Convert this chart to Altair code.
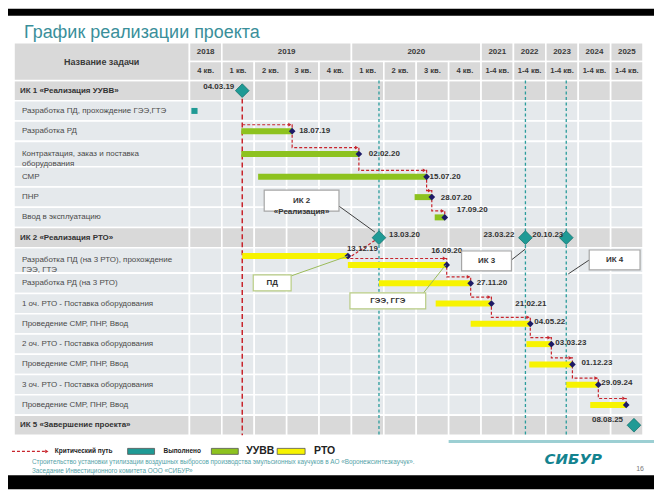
import altair as alt
import pandas as pd

# ------------------------------------------------------------------ data
years = ["2018", "2019", "2020", "2021", "2022", "2023", "2024", "2025"]
year_span = [1, 4, 4, 1, 1, 1, 1, 1]
quarters = ["4 кв.", "1 кв.", "2 кв.", "3 кв.", "4 кв.", "1 кв.", "2 кв.", "3 кв.", "4 кв.",
            "1-4 кв.", "1-4 кв.", "1-4 кв.", "1-4 кв.", "1-4 кв."]
tasks = [
    "ИК 1 «Реализация УУВВ»",
    "Разработка ПД, прохождение ГЭЭ,ГТЭ",
    "Разработка РД",
    "Контрактация, заказ и поставка\nоборудования",
    "СМР",
    "ПНР",
    "Ввод в эксплуатацию",
    "ИК 2 «Реализация РТО»",
    "Разработка ПД (на 3 РТО), прохождение\nГЭЭ, ГТЭ",
    "Разработка РД (на 3 РТО)",
    "1 оч. РТО - Поставка оборудования",
    "Проведение СМР, ПНР, Ввод",
    "2 оч. РТО - Поставка оборудования",
    "Проведение СМР, ПНР, Ввод",
    "3 оч. РТО - Поставка оборудования",
    "Проведение СМР, ПНР, Ввод",
    "ИК 5 «Завершение проекта»",
]

# timeline position = columns from the start of 2018 Q4 (one column per quarter to 2020, then per year)
done_rows = [1]
done_start = [0.06]
done_end = [0.25]

uuvv_rows = [2, 3, 4, 5, 6]
uuvv_start = [1.60, 1.60, 2.12, 6.95, 7.57]
uuvv_end = [3.17, 5.23, 7.32, 7.48, 7.88]
uuvv_dates = ["18.07.19", "02.02.20", "15.07.20", "28.07.20", "17.09.20"]

rto_rows = [8, 8, 9, 10, 11, 12, 13, 14, 15]
rto_start = [1.63, 4.89, 5.85, 7.60, 8.68, 10.40, 10.49, 11.63, 12.37]
rto_end = [4.89, 7.94, 8.68, 9.32, 10.52, 11.17, 11.82, 12.62, 13.48]
rto_dates = ["13.12.19", "16.09.20", "27.11.20", "21.02.21", "04.05.22", "03.03.23", "01.12.23", "29.09.24", ""]

ms_dates = ["04.03.19", "13.03.20", "23.03.22", "20.10.23", "08.08.25"]
ms_pos = [1.63, 5.85, 10.37, 11.63, 13.72]
ms_rows = [0, 7, 7, 7, 16]

callouts = ["ИК 2\n«Реализация»", "ПД", "ГЭЭ, ГГЭ", "ИК 3", "ИК 4"]
legend_labels = ["Критический путь", "Выполнено", "УУВВ", "РТО"]

# ------------------------------------------------------------------ layout / style
W, H = 648, 482
X0, Y0, PXU, PYU = 190.0, 80.0, 32.5, 20.34


def ux(p):
    return (p - X0) / PXU


def uy(p):
    return (p - Y0) / PYU


FONT = "Liberation Sans"
TXT = "#3a3a3a"
HDR_FILL, IK_FILL, ROW_FILL = "#d9d9d9", "#d9d9d9", "#e5e9ec"
GREEN, YELLOW, TEAL, NAVY, RED = "#8dc21f", "#f7f300", "#1f9a95", "#1c1a66", "#c8242c"
OLIVE = "#9bbb59"

xs = alt.Scale(domain=[ux(8), ux(8 + W)], nice=False, zero=False)
ys = alt.Scale(domain=[uy(8), uy(8 + H)], nice=False, zero=False, reverse=True)


def X(f):
    return alt.X(f, type="quantitative", scale=xs, axis=None)


def Y(f):
    return alt.Y(f, type="quantitative", scale=ys, axis=None)


heights = [1.25 if "\n" in t else 1.0 for t in tasks]
tops = []
acc = 0.0
for h in heights:
    tops.append(acc)
    acc += h
centers = [t + h / 2 for t, h in zip(tops, heights)]
BOTTOM = acc
HDR = [-1.87, -0.935, 0.0]

layers = []
one = pd.DataFrame({"a": [0]})

# black letterbox bands
layers.append(alt.Chart(one).mark_rect(color="black").encode(
    x=alt.value(0), x2=alt.value(W), y=alt.value(0), y2=alt.value(7)))
layers.append(alt.Chart(one).mark_rect(color="black").encode(
    x=alt.value(0), x2=alt.value(W), y=alt.value(468), y2=alt.value(H)))

# table cells
cells = []
for r, t in enumerate(tasks):
    fill = IK_FILL if t.startswith("ИК") else ROW_FILL
    cells.append(dict(x=ux(14), x2=0, y=tops[r], y2=tops[r] + heights[r], fill=fill))
    for c in range(len(quarters)):
        cells.append(dict(x=c, x2=c + 1, y=tops[r], y2=tops[r] + heights[r], fill=fill))
cells.append(dict(x=ux(14), x2=0, y=HDR[0], y2=HDR[2], fill=HDR_FILL))
c0 = 0
year_mid = []
for yr, sp in zip(years, year_span):
    cells.append(dict(x=c0, x2=c0 + sp, y=HDR[0], y2=HDR[1], fill=HDR_FILL))
    year_mid.append(c0 + sp / 2)
    c0 += sp
for c in range(len(quarters)):
    cells.append(dict(x=c, x2=c + 1, y=HDR[1], y2=HDR[2], fill=HDR_FILL))
layers.append(alt.Chart(pd.DataFrame(cells)).mark_rect(stroke="white", strokeWidth=1.6).encode(
    x=X("x"), x2="x2", y=Y("y"), y2="y2", color=alt.Color("fill:N", scale=None)))

# header texts
layers.append(alt.Chart(pd.DataFrame({"x": [ux(102)], "y": [(HDR[0] + HDR[2]) / 2], "t": ["Название задачи"]}))
              .mark_text(font=FONT, fontSize=9, fontWeight="bold", color=TXT).encode(x=X("x"), y=Y("y"), text="t:N"))
layers.append(alt.Chart(pd.DataFrame({"x": year_mid, "y": [(HDR[0] + HDR[1]) / 2] * len(years), "t": years}))
              .mark_text(font=FONT, fontSize=8, fontWeight="bold", color=TXT).encode(x=X("x"), y=Y("y"), text="t:N"))
layers.append(alt.Chart(pd.DataFrame({"x": [c + 0.5 for c in range(len(quarters))],
                                      "y": [(HDR[1] + HDR[2]) / 2] * len(quarters), "t": quarters}))
              .mark_text(font=FONT, fontSize=7.6, fontWeight="bold", color=TXT).encode(x=X("x"), y=Y("y"), text="t:N"))

# task names
norm = pd.DataFrame({"x": [ux(22)] * len(tasks), "y": centers, "t": tasks, "ik": [t.startswith("ИК") for t in tasks]})
layers.append(alt.Chart(norm[~norm.ik]).mark_text(font=FONT, fontSize=8, color="#4a4a4a", align="left",
                                                  lineBreak="\n", lineHeight=10)
              .encode(x=X("x"), y=Y("y"), text="t:N"))
ikdf = norm[norm.ik].copy()
ikdf["x"] = ux(20)
layers.append(alt.Chart(ikdf).mark_text(font=FONT, fontSize=8, fontWeight="bold", color="#333333", align="left")
              .encode(x=X("x"), y=Y("y"), text="t:N"))

# vertical dashed lines
layers.append(alt.Chart(pd.DataFrame({"x": ms_pos[1:4], "y": [0.0] * 3, "y2": [BOTTOM] * 3}))
              .mark_rule(color="#2a9c9c", strokeDash=[3, 2.5], strokeWidth=1.3)
              .encode(x=X("x"), y=Y("y"), y2="y2"))
layers.append(alt.Chart(pd.DataFrame({"x": [ms_pos[0]], "y": [centers[ms_rows[0]]], "y2": [BOTTOM]}))
              .mark_rule(color=RED, strokeDash=[5, 3], strokeWidth=1.5)
              .encode(x=X("x"), y=Y("y"), y2="y2"))

# critical path
G = 6.5 / PYU
uy_bar = [centers[r] for r in uuvv_rows]
rto_shift = [-4.5 / PYU, 4.5 / PYU] + [0.0] * (len(rto_rows) - 2)
ry_bar = [centers[r] + s for r, s in zip(rto_rows, rto_shift)]
pts, arrows = [], []
i = 0
pts.append(dict(ch="u", i=i, x=ms_pos[0], y=uy_bar[0] - G)); i += 1
for k, (e, yb) in enumerate(zip(uuvv_end, uy_bar)):
    if k > 0:
        pts.append(dict(ch="u", i=i, x=uuvv_end[k - 1], y=yb - G)); i += 1
    pts.append(dict(ch="u", i=i, x=e, y=yb - G)); i += 1
    pts.append(dict(ch="u", i=i, x=e, y=yb)); i += 1
    arrows.append(dict(x=e - 0.07, y=yb - G))
i = 0
pts.append(dict(ch="r", i=i, x=ms_pos[1], y=centers[ms_rows[1]])); i += 1
for k in range(1, len(rto_end)):
    pts.append(dict(ch="r", i=i, x=rto_end[k - 1], y=ry_bar[k] - G)); i += 1
    pts.append(dict(ch="r", i=i, x=rto_end[k], y=ry_bar[k] - G)); i += 1
    pts.append(dict(ch="r", i=i, x=rto_end[k], y=ry_bar[k])); i += 1
    arrows.append(dict(x=rto_end[k] - 0.07, y=ry_bar[k] - G))
layers.append(alt.Chart(pd.DataFrame(pts)).mark_line(color=RED, strokeDash=[3, 2], strokeWidth=1.2)
              .encode(x=X("x"), y=Y("y"), detail="ch:N", order="i:Q"))
layers.append(alt.Chart(pd.DataFrame(arrows)).mark_point(shape="triangle-right", filled=True, color=RED, size=14, opacity=1)
              .encode(x=X("x"), y=Y("y")))

# bars
bars = []
for r, s, e in zip(done_rows, done_start, done_end):
    bars.append(dict(x=s, x2=e, y=centers[r], c=TEAL))
for r, s, e in zip(uuvv_rows, uuvv_start, uuvv_end):
    bars.append(dict(x=s, x2=e, y=centers[r], c=GREEN))
for yb, s, e in zip(ry_bar, rto_start, rto_end):
    bars.append(dict(x=s, x2=e, y=yb, c=YELLOW))
layers.append(alt.Chart(pd.DataFrame(bars)).mark_rule(strokeWidth=6, strokeCap="butt")
              .encode(x=X("x"), x2="x2", y=Y("y"), color=alt.Color("c:N", scale=None)))

# end-of-task markers
dots = pd.DataFrame({"x": uuvv_end + rto_end, "y": uy_bar + ry_bar})
layers.append(alt.Chart(dots).mark_point(shape="diamond", filled=True, color=NAVY, size=45, opacity=1)
              .encode(x=X("x"), y=Y("y")))

# milestones
layers.append(alt.Chart(pd.DataFrame({"x": ms_pos, "y": [centers[r] for r in ms_rows]}))
              .mark_point(shape="diamond", filled=True, fill=TEAL, stroke="#0e6b66", strokeWidth=0.7,
                          size=190, opacity=1)
              .encode(x=X("x"), y=Y("y")))

# date labels
lab = []
u_dx, u_dy = [7, 10, 3, 9, 12], [0, 0, 0, 1, -7]
for d, e, yb, dx, dy in zip(uuvv_dates, uuvv_end, uy_bar, u_dx, u_dy):
    lab.append(dict(t=d, x=e + dx / PXU, y=yb + dy / PYU, a="left"))
r_dx = [-1, 0, 6, 24, 4, 4, 9, 3, 0]
r_dy = [-7, -14, 0, 0, -2, -1, -1, -2, 0]
r_al = ["left", "center", "left", "left", "left", "left", "left", "left", "left"]
for d, e, yb, dx, dy, al in zip(rto_dates, rto_end, ry_bar, r_dx, r_dy, r_al):
    if d:
        lab.append(dict(t=d, x=e + dx / PXU, y=yb + dy / PYU, a=al))
m_dx, m_dy = [-8, 10, -11, -3, -11], [-4, -3, -3, -3, -5]
m_al = ["right", "left", "right", "right", "right"]
for d, p, r, dx, dy, al in zip(ms_dates, ms_pos, ms_rows, m_dx, m_dy, m_al):
    lab.append(dict(t=d, x=p + dx / PXU, y=centers[r] + dy / PYU, a=al))
labdf = pd.DataFrame(lab)
for al in ["left", "right", "center"]:
    sub = labdf[labdf.a == al]
    layers.append(alt.Chart(sub).mark_text(font=FONT, fontSize=8, fontWeight="bold", color="#333333", align=al)
                  .encode(x=X("x"), y=Y("y"), text="t:N"))

# callouts: box (page px) and leader (page px)
boxes = [(265, 340, 190, 211), (254, 292, 275, 291), (351, 427, 293, 309), (463, 513, 251, 271), (591, 642, 250, 270)]
leaders = [(340, 206, 376, 232), (292, 276, 349, 256), (424, 294, 447, 265), (513, 260, 527, 249), (591, 260, 570, 274)]
lcol = ["#404040", OLIVE, OLIVE, "#404040", "#404040"]
bcol = ["#a6a6a6", "#b8cc84", "#b8cc84", "#a6a6a6", "#a6a6a6"]
ld = pd.DataFrame({"x": [ux(a[0]) for a in leaders], "y": [uy(a[1]) for a in leaders],
                   "x2": [ux(a[2]) for a in leaders], "y2": [uy(a[3]) for a in leaders], "c": lcol})
layers.append(alt.Chart(ld).mark_rule(strokeWidth=1)
              .encode(x=X("x"), y=Y("y"), x2="x2", y2="y2", color=alt.Color("c:N", scale=None)))
bd = pd.DataFrame({"x": [ux(b[0]) for b in boxes], "x2": [ux(b[1]) for b in boxes],
                   "y": [uy(b[2]) for b in boxes], "y2": [uy(b[3]) for b in boxes], "c": bcol,
                   "t": callouts, "tx": [ux((b[0] + b[1]) / 2) for b in boxes],
                   "ty": [uy((b[2] + b[3]) / 2) for b in boxes]})
layers.append(alt.Chart(bd).mark_rect(fill="white", strokeWidth=1.2)
              .encode(x=X("x"), x2="x2", y=Y("y"), y2="y2", stroke=alt.Stroke("c:N", scale=None)))
layers.append(alt.Chart(bd).mark_text(font=FONT, fontSize=8, fontWeight="bold", color="#333333",
                                      lineBreak="\n", lineHeight=11)
              .encode(x=X("tx"), y=Y("ty"), text="t:N"))

# legend
LY = uy(452)
layers.append(alt.Chart(pd.DataFrame({"x": [ux(12)], "x2": [ux(46)], "y": [LY]}))
              .mark_rule(color=RED, strokeDash=[3, 2], strokeWidth=1.2).encode(x=X("x"), x2="x2", y=Y("y")))
layers.append(alt.Chart(pd.DataFrame({"x": [ux(47)], "y": [LY]}))
              .mark_point(shape="triangle-right", filled=True, color=RED, size=14, opacity=1).encode(x=X("x"), y=Y("y")))
lrect = pd.DataFrame({"x": [ux(128), ux(212), ux(278)], "x2": [ux(155), ux(239), ux(306)],
                      "y": [uy(449)] * 3, "y2": [uy(455)] * 3, "c": [TEAL, GREEN, YELLOW]})
layers.append(alt.Chart(lrect).mark_rect(stroke="#555555", strokeWidth=0.8)
              .encode(x=X("x"), x2="x2", y=Y("y"), y2="y2", color=alt.Color("c:N", scale=None)))
lt = pd.DataFrame({"x": [ux(55), ux(164), ux(247), ux(315)], "y": [LY] * 4, "t": legend_labels})
layers.append(alt.Chart(lt.iloc[:2]).mark_text(font=FONT, fontSize=6.5, fontWeight="bold", color="#222222", align="left")
              .encode(x=X("x"), y=Y("y"), text="t:N"))
layers.append(alt.Chart(lt.iloc[2:]).mark_text(font=FONT, fontSize=10.5, fontWeight="bold", color="#222222", align="left")
              .encode(x=X("x"), y=Y("y"), text="t:N"))

# slide title, footer, logo
layers.append(alt.Chart(one).mark_text(text="График реализации проекта", font=FONT, fontSize=18,
                                       color="#3a8f9a", align="left", baseline="middle")
              .encode(x=alt.value(16), y=alt.value(24)))
layers.append(alt.Chart(one).mark_text(
    text="Строительство установки утилизации воздушных выбросов производства эмульсионных каучуков в АО «Воронежсинтезкаучук».",
    font=FONT, fontSize=6.4, color="#55a3a8", align="left", baseline="middle")
    .encode(x=alt.value(24), y=alt.value(455)))
layers.append(alt.Chart(one).mark_text(text="Заседание Инвестиционного комитета ООО «СИБУР»",
                                       font=FONT, fontSize=6.4, color="#55a3a8", align="left", baseline="middle")
              .encode(x=alt.value(24), y=alt.value(464)))
layers.append(alt.Chart(one).mark_rule(color="#9ccfd3", strokeWidth=3)
              .encode(x=alt.value(442), x2=alt.value(W), y=alt.value(434)))
layers.append(alt.Chart(one).mark_text(text="СИБУР", font="DejaVu Sans", fontSize=15, fontWeight="bold",
                                       fontStyle="italic", color="#13838f", align="center", baseline="middle")
              .encode(x=alt.value(567), y=alt.value(452)))
layers.append(alt.Chart(one).mark_text(text="16", font=FONT, fontSize=7, color="#777777", align="center",
                                       baseline="middle")
              .encode(x=alt.value(634), y=alt.value(462)))

chart = alt.layer(*layers).properties(width=W, height=H, padding=0).configure_view(strokeWidth=0)
chart.save("out.html", embed_options={"renderer": "svg", "actions": False})
